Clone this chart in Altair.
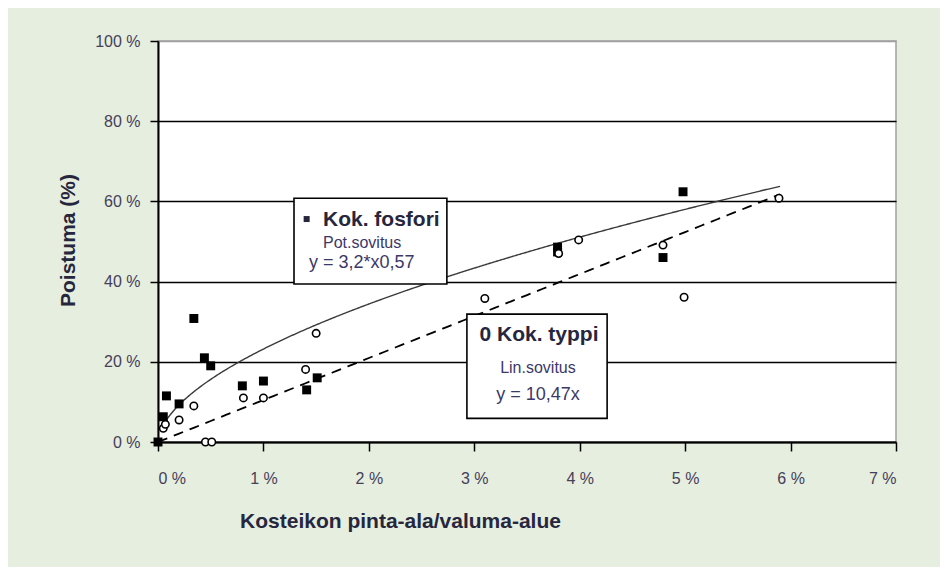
import altair as alt
import pandas as pd

# ---- data ----
# Kok. fosfori (filled squares)
P_X = [0.0, 0.05, 0.08, 0.20, 0.34, 0.44, 0.50, 0.80, 1.00, 1.41, 1.51, 3.79, 3.79, 4.79, 4.98]
P_Y = [0.0, 6.3, 11.5, 9.5, 30.8, 21.0, 19.0, 14.0, 15.2, 13.0, 16.0, 48.6, 47.4, 46.0, 62.4]
# Kok. typpi (open circles)
N_X = [0.05, 0.07, 0.20, 0.34, 0.45, 0.51, 0.81, 1.00, 1.40, 1.50, 3.10, 3.80, 3.99, 4.79, 4.99, 5.89]
N_Y = [3.4, 4.4, 5.5, 9.0, 0.0, 0.0, 11.0, 11.0, 18.1, 27.1, 35.8, 47.0, 50.4, 49.1, 36.1, 60.8]

# fitted equations printed on the chart (fractions): y = 3,2*x^0,57 and y = 10,47x
P_COEF = 3.2
P_EXP = 0.57
N_SLOPE = 10.47
P_FIT_RANGE = [0.03, 5.9]
N_FIT_RANGE = [0.0, 5.9]

X_TICKS = [0, 1, 2, 3, 4, 5, 6, 7]
Y_TICKS = [0, 20, 40, 60, 80, 100]

# annotation boxes (data units)
BOX_X = [1.29, 2.93]
BOX_X2 = [2.74, 4.26]
BOX_Y = [60.8, 31.9]
BOX_Y2 = [39.4, 5.9]

# annotation texts
BOLD_TEXT = ["Kok. fosfori", "0 Kok. typpi"]
BOLD_X = [1.565, 3.614]
BOLD_Y = [55.4, 26.7]
TXT_ALIGN = ["left", "center"]
SUB_TEXT = ["Pot.sovitus", "Lin.sovitus"]
SUB_X = [1.565, 3.604]
SUB_Y = [49.6, 18.4]
EQ_TEXT = ["y = 3,2*x0,57", "y = 10,47x"]
EQ_X = [1.432, 3.604]
EQ_Y = [44.6, 11.7]
BULLET_X = [1.41]
BULLET_Y = [55.6]

FONT = "Liberation Sans Narrow, Liberation Sans, Arial, sans-serif"
TEXT_DARK = "#26263e"
TEXT_SUB = "#3c3868"
LABEL_COL = "#45405a"
BG = "#e6eedf"

x_axis = alt.Axis(
    values=X_TICKS, labelExpr="datum.value + ' %'", title="Kosteikon pinta-ala/valuma-alue",
    grid=False, domainColor="black", domainWidth=2, tickColor="black", tickWidth=1.5,
    tickSize=9, labelPadding=19, titleX=242, titleY=79, titleAnchor="start",
    titleAlign="center", titleBaseline="middle",
)
y_axis = alt.Axis(
    values=Y_TICKS, labelExpr="datum.value + ' %'", title="Poistuma (%)",
    grid=True,
    gridColor={"condition": {"test": "datum.value >= 100", "value": "#a0a0a0"}, "value": "black"},
    gridWidth=1.5, domainColor="black", domainWidth=2, tickColor="black", tickWidth=1.5,
    tickSize=8, labelPadding=10, titleX=-90, titleY=199, titleAngle=-90,
    titleAlign="center", titleBaseline="middle", titleAnchor="start",
)
xs = alt.Scale(domain=[0, 7], nice=False)
ys = alt.Scale(domain=[0, 100], nice=False)


def X(field="x"):
    return alt.X(f"{field}:Q", scale=xs, axis=x_axis)


def Y(field="y"):
    return alt.Y(f"{field}:Q", scale=ys, axis=y_axis)


p_df = pd.DataFrame({"x": P_X, "y": P_Y})
n_df = pd.DataFrame({"x": N_X, "y": N_Y})
box_df = pd.DataFrame({"x": BOX_X, "x2": BOX_X2, "y": BOX_Y, "y2": BOX_Y2})
bold_df = pd.DataFrame({"x": BOLD_X, "y": BOLD_Y, "t": BOLD_TEXT, "a": TXT_ALIGN})
sub_df = pd.DataFrame({"x": SUB_X, "y": SUB_Y, "t": SUB_TEXT, "a": TXT_ALIGN})
eq_df = pd.DataFrame({"x": EQ_X, "y": EQ_Y, "t": EQ_TEXT, "a": TXT_ALIGN})
bullet_df = pd.DataFrame({"x": BULLET_X, "y": BULLET_Y})

# fitted curves drawn from the printed equations
p_fit = (
    alt.Chart(alt.sequence(P_FIT_RANGE[0], P_FIT_RANGE[1] + 0.001, 0.01, as_="x"))
    .transform_calculate(y=f"100 * {P_COEF} * pow(datum.x / 100, {P_EXP})")
    .mark_line(color="#3a3a3a", strokeWidth=1.4)
    .encode(x=X(), y=Y())
)
n_fit = (
    alt.Chart(alt.sequence(N_FIT_RANGE[0], N_FIT_RANGE[1] + 0.001, 0.05, as_="x"))
    .transform_calculate(y=f"{N_SLOPE} * datum.x")
    .mark_line(color="black", strokeWidth=1.8, strokeDash=[10, 7])
    .encode(x=X(), y=Y())
)

p_pts = alt.Chart(p_df).mark_point(shape="square", filled=True, color="black", size=80, opacity=1).encode(x=X(), y=Y())
n_pts = alt.Chart(n_df).mark_point(shape="circle", filled=False, stroke="black", fill="white",
                                   fillOpacity=1, strokeWidth=1.6, size=55, opacity=1).encode(x=X(), y=Y())

boxes = alt.Chart(box_df).mark_rect(fill="white", stroke="black", strokeWidth=1.6).encode(
    x=X(), x2="x2:Q", y=Y(), y2="y2:Q")


def text_layers(df, size, color, weight="normal"):
    out = []
    for a in ["left", "center"]:
        out.append(
            alt.Chart(df).transform_filter(f"datum.a == '{a}'").mark_text(
                font=FONT, fontSize=size, fontWeight=weight, color=color, baseline="middle", align=a
            ).encode(x=X(), y=Y(), text="t:N")
        )
    return out


bold_txt = text_layers(bold_df, 21, TEXT_DARK, "bold")
sub_txt = text_layers(sub_df, 16, TEXT_SUB)
eq_txt = text_layers(eq_df, 18, TEXT_SUB)

bullet = alt.Chart(bullet_df).mark_point(shape="square", filled=True, color=TEXT_DARK, size=36, opacity=1).encode(
    x=X(), y=Y())

chart = (
    alt.layer(p_fit, n_fit, p_pts, n_pts, boxes, *bold_txt, *sub_txt, *eq_txt, bullet)
    .properties(
        width=738, height=401,
        padding={"left": 150, "top": 33, "right": 44, "bottom": 125},
        autosize=alt.AutoSizeParams(type="none"),
        background=BG,
    )
    .configure_view(stroke="#a0a0a0", strokeWidth=1.5, fill="white")
    .configure_axis(
        labelFont=FONT, labelFontSize=16, labelColor=LABEL_COL,
        titleFont=FONT, titleFontSize=21, titleFontWeight="bold", titleColor=TEXT_DARK,
    )
)

chart.save("out.html", embed_options={"renderer": "svg", "actions": False})
